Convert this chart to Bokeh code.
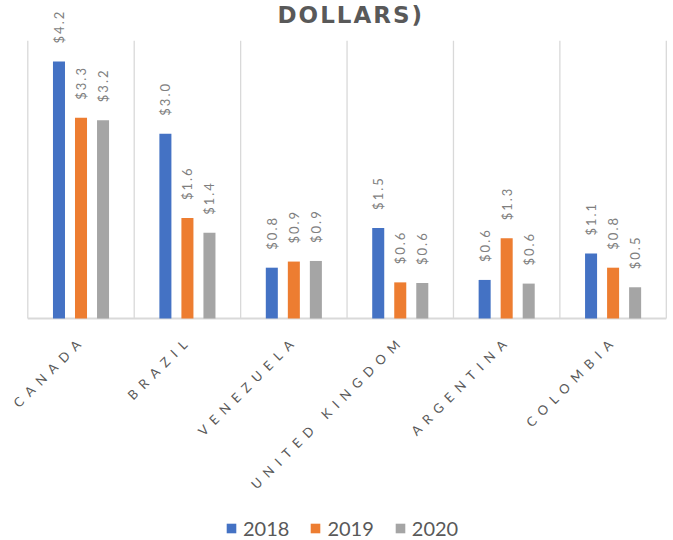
from math import pi
from bokeh.plotting import figure
from bokeh.models import ColumnDataSource, Range1d, Label, Legend, LegendItem
from bokeh.layouts import column
from bokeh.embed import file_html
from bokeh.resources import INLINE
from bokeh.core.properties import value

# ---- data ----
countries = ["CANADA", "BRAZIL", "VENEZUELA", "UNITED KINGDOM", "ARGENTINA", "COLOMBIA"]
years = ["2018", "2019", "2020"]
v2018 = [4.20, 3.02, 0.83, 1.48, 0.63, 1.06]
v2019 = [3.28, 1.64, 0.93, 0.59, 1.31, 0.83]
v2020 = [3.24, 1.40, 0.94, 0.58, 0.57, 0.51]
series = [v2018, v2019, v2020]
colors = ["#4472C4", "#ED7D31", "#A5A5A5"]
title_text = "DOLLARS)"

# ---- geometry (pixels -> data) ----
n = len(countries)
W = 673
L, R = 27.3, 7.2                      # plot-area margins in pixels
ppu = (W - L - R) / n                  # pixels per category
x_range = Range1d(-L / ppu, n + R / ppu)
centers = [i + 0.5 for i in range(n)]
offsets = [-0.207, 0.0, 0.207]
bar_w = 0.113
grid_top = 4.54
H1, H2, H3 = 320, 194, 26
y_lo, y_hi = -0.033, 5.196

common = dict(width=W, x_range=x_range, x_axis_location=None, y_axis_location=None,
              output_backend="svg", toolbar_location=None, min_border_left=0,
              min_border_right=0, min_border_top=0, min_border_bottom=0,
              outline_line_color=None)

# ---- main plot ----
p1 = figure(height=H1, y_range=Range1d(y_lo, y_hi), **common)
p1.grid.visible = False
p1.styles = {"letter-spacing": "2px"}

bounds = list(range(n + 1))
p1.segment(x0=bounds, y0=[0] * len(bounds), x1=bounds, y1=[grid_top] * len(bounds),
           line_color="#D9D9D9", line_width=1.3)
p1.segment(x0=[0], y0=[0], x1=[n], y1=[0], line_color="#D9D9D9", line_width=2)

sources = []
for vals, col, off in zip(series, colors, offsets):
    src = ColumnDataSource(dict(
        x=[c + off for c in centers],
        top=vals,
        label=[f"${v:.1f}" for v in vals],
    ))
    sources.append(src)
    p1.vbar(x="x", top="top", bottom=0, width=bar_w, source=src,
            fill_color=col, line_color=None)
    p1.text(x="x", y="top", text="label", source=src, angle=pi / 2,
            text_align="left", text_baseline="middle", y_offset=-18,
            text_font=value("Lato"), text_font_size="13px", text_color="#7F7F7F")

p1.add_layout(Label(x=n / 2 - 0.04, y=4.96, text=title_text, text_align="center",
                    text_baseline="alphabetic", text_font="DejaVu Sans",
                    text_font_style="bold", text_font_size="23px",
                    text_color="#595959"))

# ---- category labels ----
p2 = figure(height=H2, y_range=Range1d(0, 1), **common)
p2.grid.visible = False
p2.styles = {"letter-spacing": "6.8px", "direction": "rtl"}
cat_src = ColumnDataSource(dict(x=centers, y=[1] * n, text=countries))
p2.text(x="x", y="y", text="text", source=cat_src, angle=pi / 4,
        text_align="left", text_baseline="middle", x_offset=2, y_offset=17,
        text_font=value("Lato"), text_font_size="13px", text_color="#595959")

# ---- legend ----
p3 = figure(height=H3, y_range=Range1d(-2, -1), **common)
p3.grid.visible = False
rs = [p3.vbar(x="x", top="top", bottom=0, width=0, source=s,
              fill_color=c, line_color=None) for s, c in zip(sources, colors)]
legend = Legend(items=[LegendItem(label=y, renderers=[r]) for y, r in zip(years, rs)],
                orientation="horizontal", location=(225, 0),
                label_text_font="Lato", label_text_font_size="20px",
                label_text_color="#595959", glyph_width=12, glyph_height=12,
                label_standoff=6, spacing=20, border_line_color=None,
                background_fill_alpha=0, padding=0, margin=0)
p3.add_layout(legend)

layout = column(p1, p2, p3, spacing=0)
open("out.html", "w").write(file_html(layout, INLINE))
